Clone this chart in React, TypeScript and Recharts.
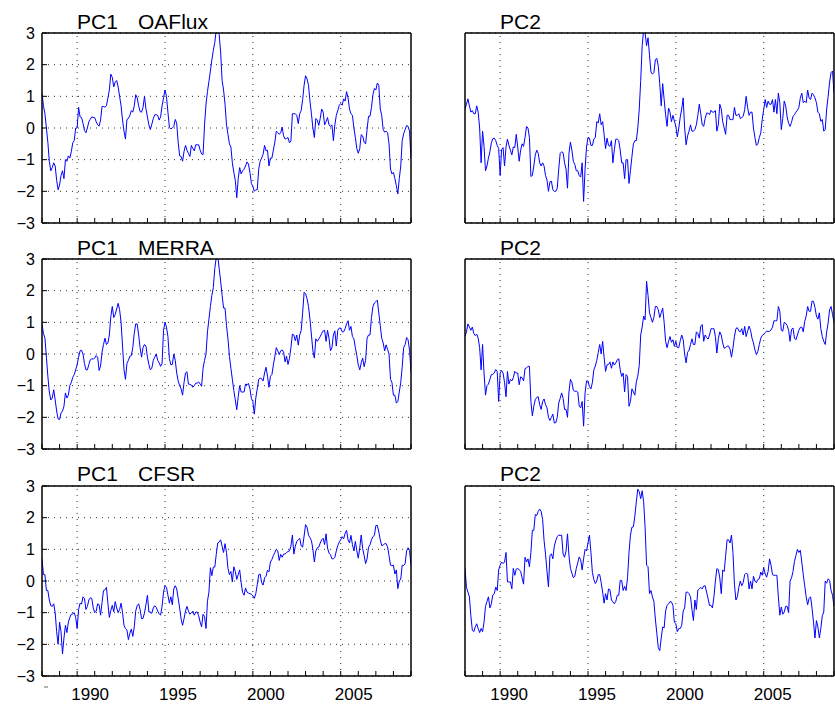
import React from "react";
import { LineChart, Line, XAxis, YAxis, CartesianGrid, ReferenceLine } from "recharts";

// monthly samples, Jan 1988 .. Jan 2009
const START_YEAR = 1988;
const END_YEAR = 2009;
const STEP = 1 / 12;
const YEAR_TICKS = [
  1988, 1989, 1990, 1991, 1992, 1993, 1994, 1995, 1996, 1997, 1998,
  1999, 2000, 2001, 2002, 2003, 2004, 2005, 2006, 2007, 2008, 2009,
];
const MAJOR_YEARS = [1990, 1995, 2000, 2005];
const Y_TICKS = [-3, -2, -1, 0, 1, 2, 3];

const oafluxPC1 = [
  1.1, 0.7, 0.45, 0.0, -0.45, -1.05, -1.35, -1.25, -1.1, -1.2,
  -1.65, -1.95, -1.8, -1.5, -1.35, -1.6, -1.0, -1.05, -0.88, -0.95,
  -0.75, -0.47, -0.4, 0.0, 0.0, 0.65, 0.35, 0.33, 0.15, -0.08,
  -0.15, 0.0, 0.2, 0.28, 0.35, 0.33, 0.33, 0.2, 0.1, 0.06,
  0.25, 0.68, 0.68, 0.66, 0.7, 0.95, 1.2, 1.7, 1.6, 1.3,
  1.45, 1.5, 1.3, 1.0, 0.7, 0.25, -0.1, -0.35, 0.27, 0.3,
  0.4, 0.55, 0.5, 0.7, 1.05, 0.95, 0.7, 0.52, 0.5, 0.65,
  1.0, 0.6, 0.35, 0.1, -0.05, 0.12, 0.3, 0.42, 0.42, 0.4,
  0.25, 0.35, 0.7, 0.95, 1.2, 1.0, 0.5, 0.02, -0.03, 0.0,
  0.05, 0.27, 0.15, -0.45, -0.88, -0.9, -1.05, -0.74, -0.55, -0.7,
  -0.8, -0.9, -0.55, -0.65, -0.72, -0.53, -0.53, -0.53, -0.7, -0.82,
  -0.84, 0.1, 0.75, 1.15, 1.47, 1.8, 2.15, 2.45, 2.7, 3.1,
  3.1, 2.95, 2.4, 1.5, 1.2, 0.75, 0.1, -0.2, -0.5, -0.6,
  -1.1, -1.4, -1.65, -2.2, -1.6, -1.25, -1.45, -1.35, -1.3, -1.2,
  -1.07, -1.14, -1.4, -1.75, -1.85, -2.0, -1.95, -1.95, -1.3, -1.05,
  -0.95, -0.83, -0.55, -0.72, -0.7, -1.2, -0.95, -0.95, -0.7, -0.45,
  -0.1, -0.14, -0.2, -0.15, 0.03, -0.25, -0.35, -0.33, -0.3, -0.47,
  -0.4, 0.45, 0.45, 0.45, 0.4, 0.14, 0.45, 0.55, 0.9, 1.35,
  1.65, 1.55, 1.35, 0.85, 0.45, 0.0, -0.3, 0.3, 0.25, 0.08,
  0.3, 0.6, 0.5, 0.1, 0.2, 0.33, 0.1, 0.05, 0.1, -0.4,
  0.1, 0.4, 0.55, 0.72, 0.77, 0.72, 0.92, 0.85, 1.15, 0.95,
  0.6, 0.45, 0.4, 0.0, -0.3, -0.65, -0.8, -0.65, -0.21, -0.25,
  -0.45, -0.5, -0.05, 0.37, 0.37, 0.65, 1.05, 1.25, 1.2, 1.42,
  1.35, 0.6, 0.4, -0.05, -0.13, -0.1, -0.15, -0.5, -1.3, -1.45,
  -1.4, -1.6, -1.82, -2.08, -1.6, -1.2, -0.4, -0.18, -0.05, 0.08,
  0.05, -0.1, -0.95,
];

const oafluxPC2 = [
  0.6, 0.75, 0.92, 0.7, 0.5, 0.55, 0.45, 0.45, 0.7, 0.5,
  0.0, -1.1, -0.1, -0.58, -1.35, -1.2, -0.95, -0.75, -0.47, -0.34,
  -0.32, -0.4, -0.55, -0.65, -1.5, -0.68, -0.62, -1.2, -0.6, -0.35,
  -0.55, -0.7, -0.85, -0.6, -0.62, -0.2, -0.6, -1.05, -0.7, -0.5,
  -0.58, -0.3, 0.05, 0.0, -0.3, -1.53, -1.5, -1.2, -0.85, -0.7,
  -0.8, -1.1, -1.2, -1.1, -1.2, -1.5, -1.65, -2.0, -1.7, -1.68,
  -1.95, -2.0, -2.0, -1.9, -1.3, -0.8, -0.75, -0.78, -1.1, -1.3,
  -1.9, -0.8, -0.45, -0.7, -1.05, -1.15, -1.35, -1.35, -1.5, -1.55,
  -1.1, -2.32, -1.3, -0.6, -0.3, -0.32, -0.55, -0.55, -0.35, -0.3,
  0.2, 0.16, 0.45, 0.1, 0.2, -0.2, -0.65, -0.32, -0.55, -0.58,
  -0.4, -1.1, -0.68, -0.35, -0.35, -0.4, -0.7, -1.1, -1.1, -1.6,
  -1.0, -1.0, -1.75, -1.35, -0.9, -0.5, -0.4, -0.4, 0.0, 0.6,
  1.5, 2.6, 3.1, 3.0, 2.6, 2.85, 2.3, 1.77, 1.7, 1.75,
  2.15, 2.2, 1.95, 1.4, 0.7, 1.4, 0.9, 0.42, 0.05, 0.63,
  0.5, 0.2, 0.4, 0.22, 0.05, -0.28, 0.0, 0.35, 0.6, 0.95,
  0.0, -0.53, -0.25, -0.1, 0.1, -0.1, -0.1, -0.05, 0.1, 0.4,
  0.75, 0.45, 0.1, 0.05, 0.3, 0.47, 0.47, 0.42, 0.56, 0.5,
  0.5, 0.55, -0.1, 0.1, 0.75, 0.6, 0.2, 0.0, -0.2, 0.4,
  0.4, 0.26, 0.27, 0.26, 0.65, 0.4, 0.4, 0.45, 0.3, 0.33,
  0.37, 0.58, 1.0, 0.65, 0.4, 0.5, 0.5, 0.0, -0.3, -0.55,
  -0.5, -0.3, -0.15, 0.28, 0.58, 0.9, 0.65, 0.85, 0.75, 0.75,
  0.9, 0.5, 0.9, 0.45, 1.1, 0.8, -0.05, 0.3, 0.85, 0.7,
  0.35, 0.15, 0.05, 0.18, 0.37, 0.42, 0.5, 0.56, 0.65, 0.95,
  1.1, 0.8, 0.85, 0.8, 1.2, 0.95, 0.9, 1.1, 1.05, 0.95,
  0.8, 0.5, 0.45, 0.21, 0.27, -0.1, -0.05, 0.6, 1.0, 1.45,
  1.75, 1.8, 1.1,
];

const merraPC1 = [
  0.93, 0.65, 0.5, -0.1, -0.7, -1.2, -1.45, -1.39, -1.13, -1.45,
  -1.8, -2.05, -2.07, -1.86, -1.8, -1.65, -1.23, -1.39, -1.3, -1.0,
  -0.9, -0.74, -0.65, -0.5, -0.34, -0.1, 0.1, 0.12, 0.0, -0.3,
  -0.5, -0.5, -0.33, -0.18, -0.15, -0.16, -0.13, -0.05, -0.1, -0.52,
  -0.38, 0.06, 0.3, 0.5, 0.3, 0.35, 0.6, 1.18, 1.5, 1.15,
  1.25, 1.42, 1.6, 1.4, 1.0, 0.25, -0.5, -0.8, -0.3, -0.2,
  -0.07, -0.05, 0.2, 0.65, 0.95, 0.95, 0.6, 0.2, -0.1, 0.2,
  0.3, 0.25, -0.1, -0.33, -0.5, -0.45, -0.2, -0.1, 0.0, -0.2,
  -0.28, -0.39, -0.3, 0.75, 1.0, 0.85, 0.55, -0.15, -0.34, -0.33,
  0.0, -0.2, -0.6, -0.85, -1.0, -1.1, -1.3, -0.9, -0.6, -0.56,
  -0.95, -0.96, -0.98, -1.05, -1.0, -0.92, -0.92, -0.88, -0.95, -1.02,
  -0.45, -0.2, 0.0, 0.7, 1.1, 1.5, 1.85, 2.1, 2.7, 3.05,
  3.1, 2.7, 2.3, 1.85, 1.45, 1.45, 0.9, 0.48, -0.07, -0.45,
  -0.8, -1.15, -1.45, -1.76, -1.35, -1.0, -1.2, -1.2, -1.2, -0.95,
  -0.97, -0.93, -1.1, -1.4, -1.5, -1.9, -1.39, -1.1, -0.8, -0.76,
  -0.78, -0.85, -0.6, -0.42, -0.7, -1.05, -0.7, -0.65, -0.35, -0.08,
  0.2, 0.1, -0.02, 0.1, 0.13, 0.06, -0.25, -0.07, -0.33, -0.14,
  0.2, 0.63, 0.6, 0.42, 0.6, 0.28, 0.6, 0.74, 1.3, 1.95,
  1.9, 1.75, 1.5, 1.1, 0.6, 0.1, -0.13, 0.48, 0.4, 0.47,
  0.55, 0.65, 0.73, 0.75, 0.4, 0.75, 0.5, 0.1, 0.2, 0.6,
  0.73, 0.25, 0.75, 0.82, 0.82, 0.7, 0.7, 0.8, 0.95, 1.05,
  0.75, 0.87, 0.55, 0.48, 0.2, -0.05, -0.35, -0.5, -0.28, -0.13,
  -0.4, -0.2, 0.5, 0.6, 0.6, 1.15, 1.5, 1.61, 1.65, 1.7,
  1.3, 0.9, 0.5, 0.35, 0.1, 0.29, 0.15, 0.0, -0.8, -0.9,
  -1.3, -1.3, -1.55, -1.5, -1.2, -0.9, -0.4, 0.2, 0.3, 0.52,
  0.45, 0.12, -0.55,
];

const merraPC2 = [
  0.55, 0.7, 0.95, 0.85, 0.75, 0.85, 0.65, 0.58, 0.63, 0.5,
  0.2, -0.5, 0.3, -0.6, -1.3, -1.0, -0.95, -0.8, -0.65, -0.64,
  -0.6, -0.49, -0.55, -1.5, -0.6, -0.52, -0.6, -0.9, -1.35, -0.55,
  -0.95, -0.8, -0.85, -0.75, -0.55, -0.6, -0.6, -0.97, -0.72, -0.75,
  -0.85, -0.46, -0.44, -0.39, -0.39, -1.5, -1.95, -1.65, -1.44, -1.37,
  -1.35, -1.6, -1.75, -1.5, -1.42, -1.6, -1.7, -2.0, -2.1, -2.0,
  -1.9, -2.18, -2.17, -2.0, -1.55, -1.4, -1.23, -1.4, -1.75, -1.75,
  -2.0, -1.2, -0.8, -0.9, -1.15, -1.18, -1.17, -1.2, -1.65, -1.7,
  -1.5, -2.28, -1.23, -0.85, -0.85, -1.03, -1.1, -0.9, -0.5, -0.38,
  -0.2, 0.05, 0.3, 0.0, 0.4, -0.1, -0.55, -0.34, -0.33, -0.25,
  -0.45, -0.25, -0.35, -0.28, -0.18, -0.15, -0.5, -0.71, -0.6, -1.2,
  -0.65, -0.71, -1.65, -1.5, -1.1, -1.2, -1.3, -0.88, -0.7, -0.36,
  0.6, 0.85, 1.2, 1.08, 2.3, 1.85, 1.3, 1.15, 1.0, 1.15,
  1.5, 1.5, 1.4, 1.15, 1.3, 1.45, 1.0, 0.4, 0.2, 0.4,
  0.55, 0.37, 0.45, 0.24, 0.4, 0.2, 0.2, 0.42, 0.6, 0.45,
  0.0, -0.28, 0.05, 0.12, 0.3, 0.48, 0.3, 0.3, 0.7, 0.65,
  0.5, 0.88, 0.93, 0.4, 0.6, 0.52, 0.47, 0.6, 0.8, 0.8,
  0.8, 0.55, 0.03, 0.48, 0.7, 0.6, 0.35, 0.18, 0.2, 0.25,
  0.25, 0.15, -0.1, 0.19, 0.55, 0.8, 0.83, 0.73, 0.7, 0.8,
  0.6, 0.87, 0.55, 0.72, 0.88, 0.75, 0.5, 0.35, 0.13, -0.02,
  0.08, 0.3, 0.5, 0.59, 0.62, 0.68, 0.72, 0.71, 0.72, 0.76,
  0.85, 1.05, 1.05, 1.05, 1.5, 1.35, 0.75, 0.72, 1.0, 0.97,
  0.9, 0.75, 0.4, 0.78, 0.82, 0.5, 0.45, 0.6, 0.75, 0.84,
  0.85, 0.7, 1.03, 1.2, 1.5, 1.35, 1.35, 1.67, 1.66, 1.47,
  1.2, 1.1, 1.3, 0.8, 0.55, 0.4, 0.3, 0.7, 0.98, 1.4,
  1.5, 1.25, 1.0,
];

const cfsrPC1 = [
  0.7, 0.2, 0.2, -0.3, -0.3, -0.6, -0.78, -0.8, -0.72, -1.0,
  -1.6, -2.0, -1.3, -1.61, -2.3, -1.8, -1.4, -1.63, -1.3, -1.15,
  -1.05, -1.04, -1.0, -1.15, -1.5, -0.9, -0.7, -0.73, -0.5, -0.55,
  -0.9, -0.8, -0.6, -0.53, -0.55, -0.85, -1.0, -0.95, -0.72, -0.75,
  -1.08, -0.68, -0.3, -0.28, -0.2, -0.7, -1.15, -0.93, -0.77, -0.97,
  -0.65, -0.85, -1.0, -0.9, -0.7, -1.0, -1.4, -1.5, -1.55, -1.85,
  -1.65, -1.52, -1.75, -1.45, -0.95, -0.78, -0.72, -0.9, -1.19, -1.18,
  -1.0, -0.75, -0.45, -0.98, -0.98, -1.02, -0.85, -0.78, -0.83, -0.95,
  -1.03, -1.08, -0.8, -0.35, -0.15, -0.2, -0.45, -0.7, -0.5, -0.75,
  -0.25, -0.15, -0.25, -0.55, -0.85, -1.2, -1.4, -1.19, -0.95, -0.8,
  -0.95, -1.05, -1.0, -0.95, -1.08, -0.98, -0.98, -1.1, -1.3, -1.45,
  -1.05, -1.12, -1.5, -0.64, -0.35, 0.42, 0.17, 0.44, 0.44, 0.84,
  1.2, 1.23, 1.3, 1.1, 0.9, 1.18, 0.9, 0.4, 0.2, 0.3,
  -0.03, 0.45, 0.3, 0.05, 0.2, 0.35, -0.05, -0.36, -0.45, -0.22,
  -0.35, -0.38, -0.4, -0.42, -0.47, -0.55, -0.4, -0.12, 0.2, 0.22,
  -0.05, -0.13, 0.1, 0.15, 0.34, 0.29, 0.6, 0.68, 0.8, 0.9,
  1.0, 0.95, 0.65, 0.84, 0.75, 0.85, 0.85, 0.9, 0.93, 0.95,
  1.1, 1.45, 0.85, 1.1, 1.25, 1.3, 1.35, 1.11, 1.07, 1.42,
  1.78, 1.7, 1.45, 1.37, 1.28, 1.0, 0.6, 0.95, 1.05, 1.07,
  1.2, 1.3, 1.35, 1.15, 1.49, 1.04, 0.88, 0.83, 0.7, 0.7,
  0.75, 0.95, 1.12, 1.23, 1.3, 1.4, 1.33, 1.5, 1.6, 1.3,
  1.2, 1.44, 1.15, 0.95, 1.25, 0.95, 0.72, 1.05, 1.45, 1.02,
  0.8, 0.55, 0.7, 1.07, 1.14, 1.3, 1.4, 1.44, 1.75, 1.76,
  1.55, 1.3, 1.12, 1.13, 1.18, 1.18, 1.08, 0.8, 0.5, 0.48,
  0.5, 0.22, 0.35, -0.24, 0.0, 0.06, 0.5, 0.49, 0.55, 0.95,
  1.05, 0.97, 0.5,
];

const cfsrPC2 = [
  0.4, -0.2, -0.35, -0.5, -1.1, -1.55, -1.6, -1.45, -1.35, -1.5,
  -1.63, -1.5, -1.6, -1.3, -0.8, -0.65, -0.5, -0.85, -0.72, -0.44,
  -0.4, -0.19, -0.3, 0.35, 0.5, 0.6, 0.55, 0.6, 0.9, -0.03,
  -0.03, -0.03, -0.25, 0.4, 0.18, 0.38, 0.39, 0.36, 0.3, 0.1,
  -0.1, 0.75, 0.6, 0.7, 0.45, 0.9, 1.6, 1.6, 2.1, 2.07,
  2.2, 2.27, 2.2, 1.95, 1.28, 0.85, 0.3, -0.19, 0.8, 0.86,
  0.7, 1.1, 1.28, 1.4, 1.45, 1.44, 1.45, 0.85, 0.75, 0.95,
  1.49, 0.8, 0.4, 0.25, 0.1, 0.15, 0.4, 0.57, 0.76, 0.67,
  0.35, 0.7, 1.0, 0.95, 1.2, 1.45, 0.9, 0.27, 0.05, -0.08,
  0.0, 0.2, 0.2, -0.05, -0.35, -0.7, -0.4, -0.6, -0.25, -0.28,
  -0.6, -0.66, -0.72, -0.64, -0.45, -0.45, 0.02, 0.02, -0.3, -0.17,
  -0.3, 0.1, 0.9, 1.45, 1.7, 1.71, 2.05, 2.5, 2.9, 2.82,
  2.6, 2.85, 2.5, 1.7, 0.5, 0.45, -0.4, -0.3, -0.5, -0.65,
  -1.2, -1.65, -2.1, -2.2, -1.8, -1.45, -1.48, -0.95, -0.77, -0.72,
  -0.65, -0.66, -0.77, -1.3, -1.35, -1.6, -1.5, -1.5, -1.4, -0.95,
  -0.85, -0.35, -0.35, -0.4, -0.5, -0.9, -1.25, -0.6, -0.9, -0.29,
  -0.25, -0.2, -0.25, -0.16, -0.15, -0.35, -0.56, -0.77, -0.77, -0.85,
  -0.5, 0.0, 0.39, 0.36, 0.1, -0.4, 0.35, 0.3, 0.8, 1.3,
  1.3, 1.2, 1.45, 0.9, -0.1, -0.6, -0.5, -0.2, 0.0, -0.15,
  -0.05, 0.2, 0.25, 0.22, -0.25, 0.0, -0.25, 0.15, 0.0, -0.05,
  0.05, 0.07, 0.28, 0.18, 0.42, 0.22, 0.12, 0.3, 0.7, 0.5,
  0.2, 0.18, 0.18, 0.18, -0.5, -1.08, -0.82, -1.05, -0.98, -0.8,
  -0.8, -1.0, 0.0, 0.1, 0.3, 0.62, 0.8, 1.0, 0.9, 0.97,
  0.6, 0.2, -0.15, -0.5, -0.75, -0.55, -0.5, -0.86, -1.3, -1.8,
  -1.25, -1.45, -1.8, -1.5, -1.1, -0.98, 0.0, -0.07, 0.07, 0.02,
  -0.3, -0.45, -0.8,
];

const FONT = "'Liberation Sans', Arial, Helvetica, sans-serif";
const LINE_BLUE = "#0000ff";
const GRID = "#333";

const toRows = (values: number[]) =>
  values.map((v, i) => ({ t: START_YEAR + i * STEP, v }));

const fmtY = (v: number) => (v < 0 ? "\u2212" + Math.abs(v) : String(v));

// year label, only on the 5-year ticks
const YearTick = (props: any) => {
  const { x, y, payload, show, dx } = props;
  if (!show || payload.value % 5 !== 0) return <g />;
  return (
    <text x={x + dx} y={y} dy="0.71em" textAnchor="middle" fontSize={17} fill="#000" fontFamily={FONT}>
      {payload.value}
    </text>
  );
};

type PanelProps = {
  values: number[];
  left: number;
  top: number;
  isLeft: boolean;
  showYears: boolean;
  labelDx: number;
};

function Panel({ values, left, top, isLeft, showYears, labelDx }: PanelProps) {
  const data = toRows(values);
  const width = isLeft ? 420 : 412;
  const axisLine = { stroke: "#000", strokeWidth: 1.5 };
  return (
    <div style={{ position: "absolute", left, top }}>
      <LineChart
        width={width}
        height={231}
        data={data}
        margin={{ top: 10, right: isLeft ? 8 : 0, bottom: 0, left: 0 }}
      >
        <CartesianGrid stroke={GRID} strokeDasharray="1 5" vertical={false} />
        {MAJOR_YEARS.map((yr) => (
          <ReferenceLine key={yr} x={yr} stroke={GRID} strokeDasharray="1 5" />
        ))}
        <XAxis
          dataKey="t"
          type="number"
          domain={[START_YEAR, END_YEAR]}
          ticks={YEAR_TICKS}
          interval={0}
          allowDataOverflow
          height={30}
          tickSize={-5}
          tickMargin={17}
          axisLine={axisLine}
          tickLine={{ stroke: "#000" }}
          tick={<YearTick show={showYears} dx={labelDx} />}
        />
        <XAxis
          xAxisId="top"
          orientation="top"
          dataKey="t"
          type="number"
          domain={[START_YEAR, END_YEAR]}
          ticks={YEAR_TICKS}
          interval={0}
          allowDataOverflow
          height={1}
          tickSize={-5}
          axisLine={axisLine}
          tickLine={{ stroke: "#000" }}
          tick={false}
        />
        <YAxis
          type="number"
          domain={[-3, 3]}
          ticks={Y_TICKS}
          interval={0}
          allowDataOverflow
          width={42}
          tickSize={-5}
          tickMargin={12}
          axisLine={axisLine}
          tickLine={{ stroke: "#000" }}
          tickFormatter={fmtY}
          tick={isLeft ? { fontSize: 16, fill: "#000", fontFamily: FONT } : false}
        />
        <YAxis
          yAxisId="right"
          orientation="right"
          type="number"
          domain={[-3, 3]}
          ticks={Y_TICKS}
          interval={0}
          allowDataOverflow
          width={1}
          tickSize={-5}
          axisLine={axisLine}
          tickLine={{ stroke: "#000" }}
          tick={false}
        />
        <Line
          type="linear"
          dataKey="v"
          stroke={LINE_BLUE}
          strokeWidth={1}
          dot={false}
          activeDot={false}
          isAnimationActive={false}
        />
      </LineChart>
    </div>
  );
}

const ROW_TOPS = [22, 248, 475];
const TITLE_BASE = [29, 255, 481];
const SOURCES = ["OAFlux", "MERRA", "CFSR"];
const LEFT_SERIES = [oafluxPC1, merraPC1, cfsrPC1];
const RIGHT_SERIES = [oafluxPC2, merraPC2, cfsrPC2];

export default function App() {
  return (
    <div
      style={{
        position: "absolute",
        left: 0,
        top: 0,
        width: 835,
        height: 706,
        background: "#fff",
        fontFamily: FONT,
        overflow: "hidden",
      }}
    >
      {ROW_TOPS.map((top, r) => (
        <React.Fragment key={r}>
          <Panel values={LEFT_SERIES[r]} left={0} top={top} isLeft showYears={r === 2} labelDx={13} />
          <Panel values={RIGHT_SERIES[r]} left={423} top={top} isLeft={false} showYears={r === 2} labelDx={9} />
        </React.Fragment>
      ))}
      <svg
        width={835}
        height={706}
        style={{ position: "absolute", left: 0, top: 0, pointerEvents: "none" }}
      >
        {TITLE_BASE.map((y, r) => (
          <g key={r} fontSize={21} fill="#000" fontFamily={FONT}>
            <text x={77} y={y}>PC1</text>
            <text x={138} y={y}>{SOURCES[r]}</text>
            <text x={500} y={y}>PC2</text>
          </g>
        ))}
        <line x1={44} x2={48} y1={687} y2={687} stroke="#666" strokeWidth={1} />
      </svg>
    </div>
  );
}
